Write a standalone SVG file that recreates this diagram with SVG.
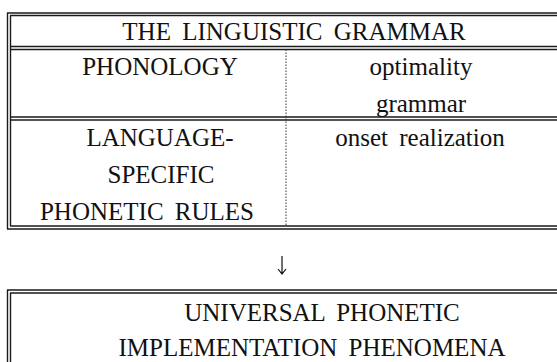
<svg xmlns="http://www.w3.org/2000/svg" width="557" height="362" viewBox="0 0 557 362">
<style>
.t{font-family:"Liberation Serif","Times New Roman",serif;font-size:25px;fill:#111;text-anchor:middle;word-spacing:5px}
.d{stroke:#1a1a1a;stroke-width:1.4;fill:none}
.dot{stroke:#333;stroke-width:1;stroke-dasharray:1.5 1.5;fill:none}
</style>
<rect width="557" height="362" fill="#fff"/>
<g id="grammar-box">
<path class="d" d="M7.5 13V229M10.5 15.5V226M7 13H557M10 15.5H557M10 46.5H557M10 49.5H557M10 117H557M10 120H557M10 226H557M7 229H557"/>
<path class="dot" d="M286 49.5V226"/>
<text class="t" x="294" y="40">THE LINGUISTIC GRAMMAR</text>
<text class="t" x="160" y="75">PHONOLOGY</text>
<text class="t" x="421" y="75">optimality</text>
<text class="t" x="421" y="112">grammar</text>
<text class="t" x="160" y="146">LANGUAGE-</text>
<text class="t" x="161" y="183">SPECIFIC</text>
<text class="t" x="147" y="220">PHONETIC RULES</text>
<text class="t" x="420" y="146">onset realization</text>
</g>
<g id="connectors">
<path d="M282 256V274M278 269L282 274L286 269" stroke="#111" stroke-width="1.2" fill="none"/>
</g>
<g id="universal-box">
<path class="d" d="M7.5 290V362M10.5 293V362M7 290H557M10 293H557"/>
<text class="t" x="322" y="321">UNIVERSAL PHONETIC</text>
<text class="t" x="312" y="356">IMPLEMENTATION PHENOMENA</text>
</g>
</svg>
